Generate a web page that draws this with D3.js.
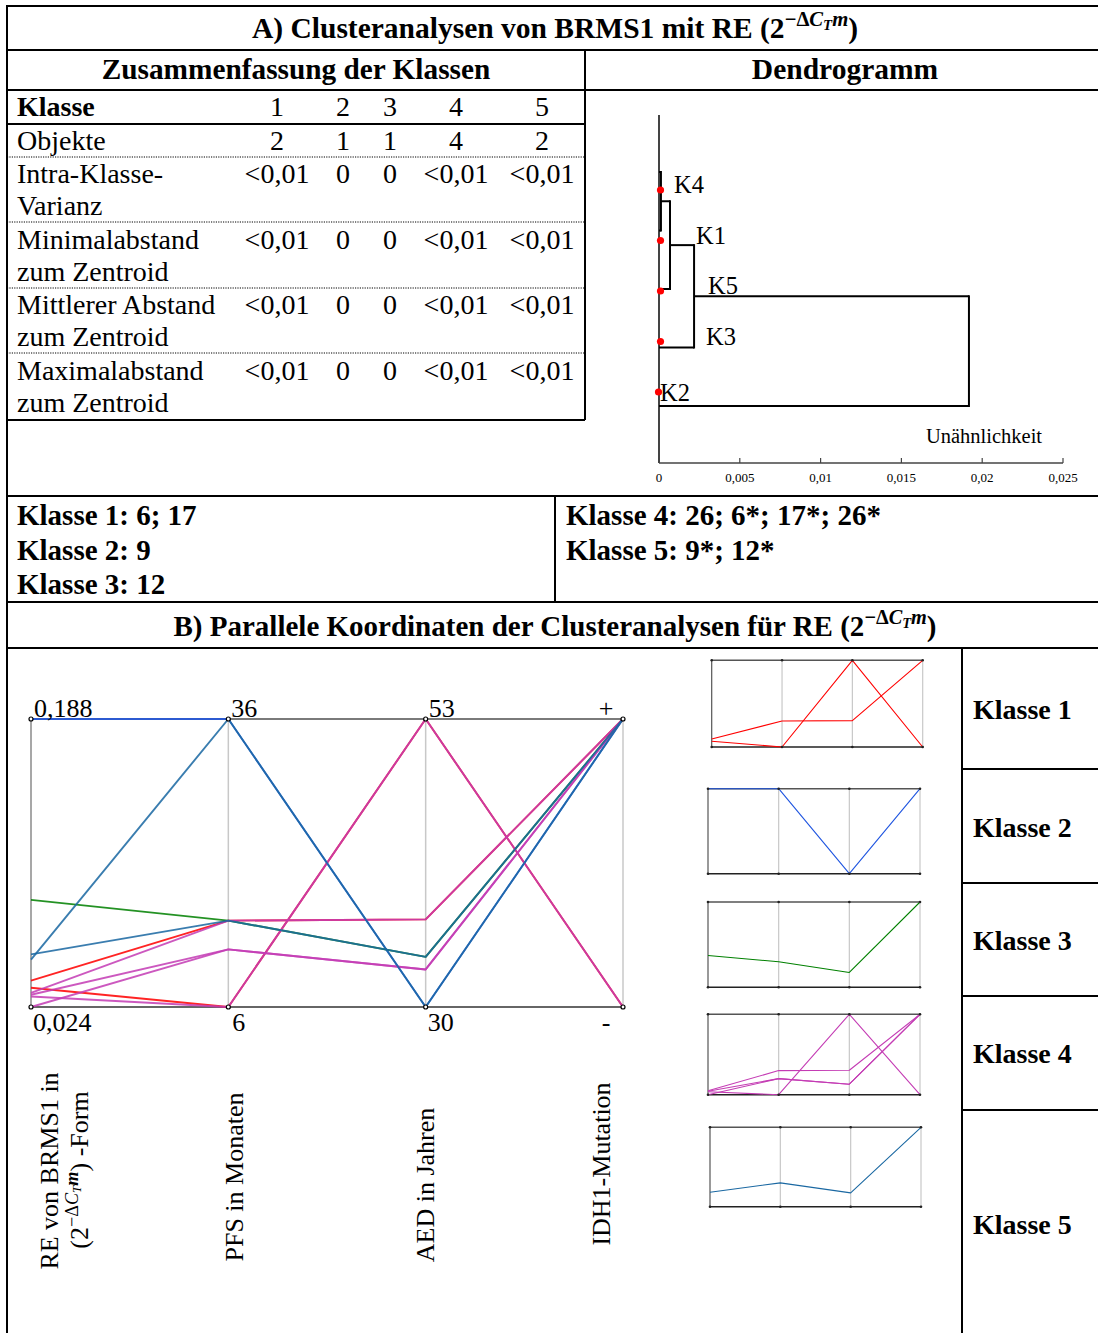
<!DOCTYPE html>
<html>
<head>
<meta charset="utf-8">
<script src="https://cdn.jsdelivr.net/npm/d3@7"></script>
<style>
  body { margin: 0; background: #fff; }
  svg { display: block; }
  text { font-family: "Liberation Serif", "Times New Roman", serif; fill: #000; }
</style>
</head>
<body>
<svg id="fig" width="1098" height="1333"></svg>
<script>
// ---------- Data ----------
// Summary table of the five classes
const tableClasses = ["1", "2", "3", "4", "5"];
const objectCounts = ["2", "1", "1", "4", "2"];
const intraVariance = ["<0,01", "0", "0", "<0,01", "<0,01"];
const minDistance = ["<0,01", "0", "0", "<0,01", "<0,01"];
const meanDistance = ["<0,01", "0", "0", "<0,01", "<0,01"];
const maxDistance = ["<0,01", "0", "0", "<0,01", "<0,01"];

// Dendrogram: leaf order and agglomeration heights (dissimilarity)
const leaves = ["K4", "K1", "K5", "K3", "K2"];
const merges = [
  { left: "K4", right: "K1", height: 0.00012 },
  { left: 0, right: "K5", height: 0.00068 },
  { left: 1, right: "K3", height: 0.00217 },
  { left: 2, right: "K2", height: 0.01918 }
];
const dendroTicks = [0, 0.005, 0.01, 0.015, 0.02, 0.025];

// Parallel coordinates: one record per sample
const dims = ["RE", "PFS", "AED", "IDH"];
const sampleIds = ["6", "17", "9", "12", "26", "6*", "17*", "26*", "9*", "12*"];
const sampleClass = [1, 1, 2, 3, 4, 4, 4, 4, 5, 5];
const reValues = [0.039, 0.035, 0.188, 0.085, 0.031, 0.032, 0.030, 0.024, 0.051, 0.054];
const pfsValues = [15, 6, 36, 15, 12, 15, 6, 12, 36, 15];
const aedValues = [37, 53, 30, 34, 33, 37, 53, 33, 30, 34];
const idhValues = ["+", "-", "+", "+", "+", "+", "-", "+", "+", "+"];
const topTickLabels = ["0,188", "36", "53", "+"];
const bottomTickLabels = ["0,024", "6", "30", "-"];
const classColors = ["#ff0000", "#1f55e0", "#008000", "#c43cb4", "#1a68a2"];
// samples shown in the per-class panels
const panelMembers = [["6", "17"], ["9"], ["12"], ["26", "6*", "17*", "26*"], ["12*"]];

// ---------- Helpers ----------
const svg = d3.select("#fig");
const fmtComma = v => String(v).replace(".", ",");

function line(x1, y1, x2, y2, w = 2, color = "#000", dash = null) {
  const l = svg.append("line").attr("x1", x1).attr("y1", y1).attr("x2", x2).attr("y2", y2)
    .attr("stroke", color).attr("stroke-width", w);
  if (dash) l.attr("stroke-dasharray", dash);
  return l;
}
function text(x, y, str, size, opts = {}) {
  return svg.append("text").attr("x", x).attr("y", y).attr("font-size", size)
    .attr("font-weight", opts.bold ? "bold" : null)
    .attr("text-anchor", opts.anchor || "start").text(str);
}
// appends the exponent -ΔC_T m and a closing parenthesis to a text started with "(2"
function addExponent(t, size) {
  const s = size * 0.7, ss = size * 0.5;
  t.append("tspan").attr("dy", -size * 0.4).attr("font-size", s).text("−Δ");
  t.append("tspan").attr("font-size", s).attr("font-style", "italic").text("C");
  t.append("tspan").attr("dy", size * 0.12).attr("font-size", ss).attr("font-style", "italic").text("T");
  t.append("tspan").attr("dy", -size * 0.12).attr("font-size", s).attr("font-style", "italic").attr("font-weight", "bold").text("m");
  t.append("tspan").attr("dy", size * 0.4).attr("font-size", size).text(")");
  return t;
}

// ---------- Frame ----------
[6, 50, 90, 496, 602, 648].forEach(y => line(7, y, 1098, y));
line(7, 124, 585, 124);
line(7, 420, 585, 420);
[157, 222, 288, 353].forEach(y => line(7, y, 585, y, 1, "#000", "1.2,1.2"));
[769, 883, 996, 1110].forEach(y => line(962, y, 1098, y));
line(7, 5, 7, 1333);
line(585, 50, 585, 420);
line(555, 496, 555, 602);
line(962, 648, 962, 1333);

// ---------- Headings ----------
addExponent(text(555, 38, "A) Clusteranalysen von BRMS1 mit RE (2", 29.5, { bold: true, anchor: "middle" }), 29.5);
text(296, 79, "Zusammenfassung der Klassen", 29.3, { bold: true, anchor: "middle" });
text(845, 79, "Dendrogramm", 29.5, { bold: true, anchor: "middle" });
addExponent(text(555, 636, "B) Parallele Koordinaten der Clusteranalysen für RE (2", 29, { bold: true, anchor: "middle" }), 29);

// ---------- Summary table ----------
const colX = [277, 343, 390, 456, 542];
const tableRows = [
  { labels: ["Klasse"], values: tableClasses, y: 116, bold: true },
  { labels: ["Objekte"], values: objectCounts, y: 150 },
  { labels: ["Intra-Klasse-", "Varianz"], values: intraVariance, y: 183 },
  { labels: ["Minimalabstand", "zum Zentroid"], values: minDistance, y: 249 },
  { labels: ["Mittlerer Abstand", "zum Zentroid"], values: meanDistance, y: 314 },
  { labels: ["Maximalabstand", "zum Zentroid"], values: maxDistance, y: 380 }
];
tableRows.forEach(r => {
  r.labels.forEach((lab, i) => text(17, r.y + i * 32, lab, 28, { bold: r.bold }));
  r.values.forEach((v, i) => text(colX[i], r.y, v, 28, { anchor: "middle" }));
});

// ---------- Dendrogram ----------
const dx = d3.scaleLinear().domain([0, 0.025]).range([659, 1063]);
const leafY = d3.scalePoint().domain(leaves).range([172, 406]);
const dotY = d3.scalePoint().domain(leaves).range([190, 392]);
line(659, 115, 659, 463, 2, "#444");
line(659, 463, 1063, 463, 1.5, "#444");
dendroTicks.forEach(t => {
  line(dx(t), 458, dx(t), 463, 1.2, "#444");
  text(dx(t), 482, fmtComma(t), 13, { anchor: "middle" });
});
text(984, 443, "Unähnlichkeit", 20.5, { anchor: "middle" });

const nodes = [];
const pos = c => typeof c === "number" ? nodes[c] : { x: dx(0), y: leafY(c) };
merges.forEach(m => {
  const a = pos(m.left), b = pos(m.right), hx = dx(m.height);
  line(a.x, a.y, hx, a.y);
  line(b.x, b.y, hx, b.y);
  line(hx, a.y - 1, hx, b.y + 1);
  nodes.push({ x: hx, y: (a.y + b.y) / 2 });
});
const leafLabelX = { K4: 674, K1: 696, K5: 708, K3: 706, K2: 660 };
leaves.forEach(k => {
  svg.append("circle").attr("cx", k === "K2" ? 658.5 : 660.5).attr("cy", dotY(k)).attr("r", 3.6).attr("fill", "#ff0000");
  text(leafLabelX[k], dotY(k) + 3 + (k === "K2" ? 6 : 0), k, 24.5);
});

// ---------- Class membership lists ----------
const memberText = c => sampleIds.filter((s, i) => sampleClass[i] === c).join("; ");
[1, 2, 3].forEach((c, i) => text(17, 525 + i * 34.5, `Klasse ${c}: ${memberText(c)}`, 29, { bold: true }));
[4, 5].forEach((c, i) => text(566, 525 + i * 34.5, `Klasse ${c}: ${memberText(c)}`, 29, { bold: true }));

// ---------- Parallel coordinates ----------
const samples = sampleIds.map((id, i) => ({
  id, cls: sampleClass[i],
  RE: reValues[i], PFS: pfsValues[i], AED: aedValues[i], IDH: idhValues[i]
}));

function makeScales(x0, x1, yBottom, yTop) {
  return {
    x: d3.scalePoint().domain(dims).range([x0, x1]),
    RE: d3.scaleLinear().domain([0.024, 0.188]).range([yBottom, yTop]),
    PFS: d3.scaleLinear().domain([6, 36]).range([yBottom, yTop]),
    AED: d3.scaleLinear().domain([30, 53]).range([yBottom, yTop]),
    IDH: d3.scalePoint().domain(["-", "+"]).range([yBottom, yTop])
  };
}

function drawPanel(sc, data, opts) {
  const g = svg.append("g");
  const [yB, yT] = sc.RE.range();
  const [x0, x1] = sc.x.range();
  dims.forEach((d, i) => {
    g.append("line").attr("x1", sc.x(d)).attr("x2", sc.x(d)).attr("y1", yT).attr("y2", yB)
      .attr("stroke", i === 0 ? opts.firstAxis : "#c8c8c8").attr("stroke-width", opts.axisW);
  });
  g.append("line").attr("x1", x0).attr("x2", x1).attr("y1", yT).attr("y2", yT)
    .attr("stroke", opts.frame).attr("stroke-width", opts.frameW);
  g.append("line").attr("x1", x0).attr("x2", x1).attr("y1", yB).attr("y2", yB)
    .attr("stroke", opts.frameBottom || opts.frame).attr("stroke-width", opts.frameW);
  const path = d3.line().x(p => p[0]).y(p => p[1]);
  data.forEach(s => {
    g.append("path")
      .attr("d", path(dims.map(d => [sc.x(d), sc[d](s[d])])))
      .attr("fill", "none").attr("stroke", classColors[s.cls - 1])
      .attr("stroke-width", opts.lineW).attr("stroke-opacity", opts.opacity)
      .attr("stroke-linejoin", "round");
  });
  dims.forEach(d => {
    [yT, yB].forEach(y => {
      const c = g.append("circle").attr("cx", sc.x(d)).attr("cy", y).attr("r", opts.dotR);
      if (opts.hollow) c.attr("fill", "#fff").attr("stroke", "#000").attr("stroke-width", 1.2);
      else c.attr("fill", "#222");
    });
  });
  return g;
}

// main chart
const main = makeScales(31, 623, 1007, 719);
drawPanel(main, samples, { firstAxis: "#8a8a8a", axisW: 1.5, frame: "#7a7a7a", frameBottom: "#666", frameW: 2.2, lineW: 1.9, opacity: 0.86, dotR: 2, hollow: true });

dims.forEach((d, i) => {
  const x = main.x(d);
  const isIdh = d === "IDH";
  text(isIdh ? x - 17 : x + 3, 717, topTickLabels[i], 26, { anchor: isIdh ? "middle" : "start" });
  text(isIdh ? x - 17 : x + (d === "PFS" ? 4 : 2), 1031, bottomTickLabels[i], 26, { anchor: isIdh ? "middle" : "start" });
});

// rotated axis titles
function vText(x, y, str, size) {
  return svg.append("text").attr("transform", `translate(${x},${y}) rotate(-90)`)
    .attr("font-size", size).attr("text-anchor", "middle").text(str);
}
vText(58, 1171, "RE von BRMS1 in", 26);
addExponent(vText(88, 1170, "(2", 26), 26).append("tspan").text(" -Form");
vText(243, 1177, "PFS in Monaten", 26);
vText(434, 1185, "AED in Jahren", 26);
vText(610, 1164, "IDH1-Mutation", 26);

// per-class panels
const panels = [
  { x0: 711.7, x1: 922.7, yT: 660.3, yB: 747, label: 719 },
  { x0: 708, x1: 920, yT: 788.7, yB: 873.7, label: 836.5 },
  { x0: 708, x1: 920, yT: 902, yB: 987.3, label: 950 },
  { x0: 708, x1: 920, yT: 1014.3, yB: 1094.7, label: 1062.5 },
  { x0: 710, x1: 921, yT: 1127.3, yB: 1206.7, label: 1234 }
];
panels.forEach((p, i) => {
  const sc = makeScales(p.x0, p.x1, p.yB, p.yT);
  const members = samples.filter(s => panelMembers[i].includes(s.id));
  drawPanel(sc, members, { firstAxis: "#555", axisW: 1.2, frame: "#555", frameBottom: "#222", frameW: 1.5, lineW: 1.1, opacity: 1, dotR: 1.3, hollow: false });
  text(973, p.label, `Klasse ${tableClasses[i]}`, 28, { bold: true });
});
</script>
</body>
</html>
